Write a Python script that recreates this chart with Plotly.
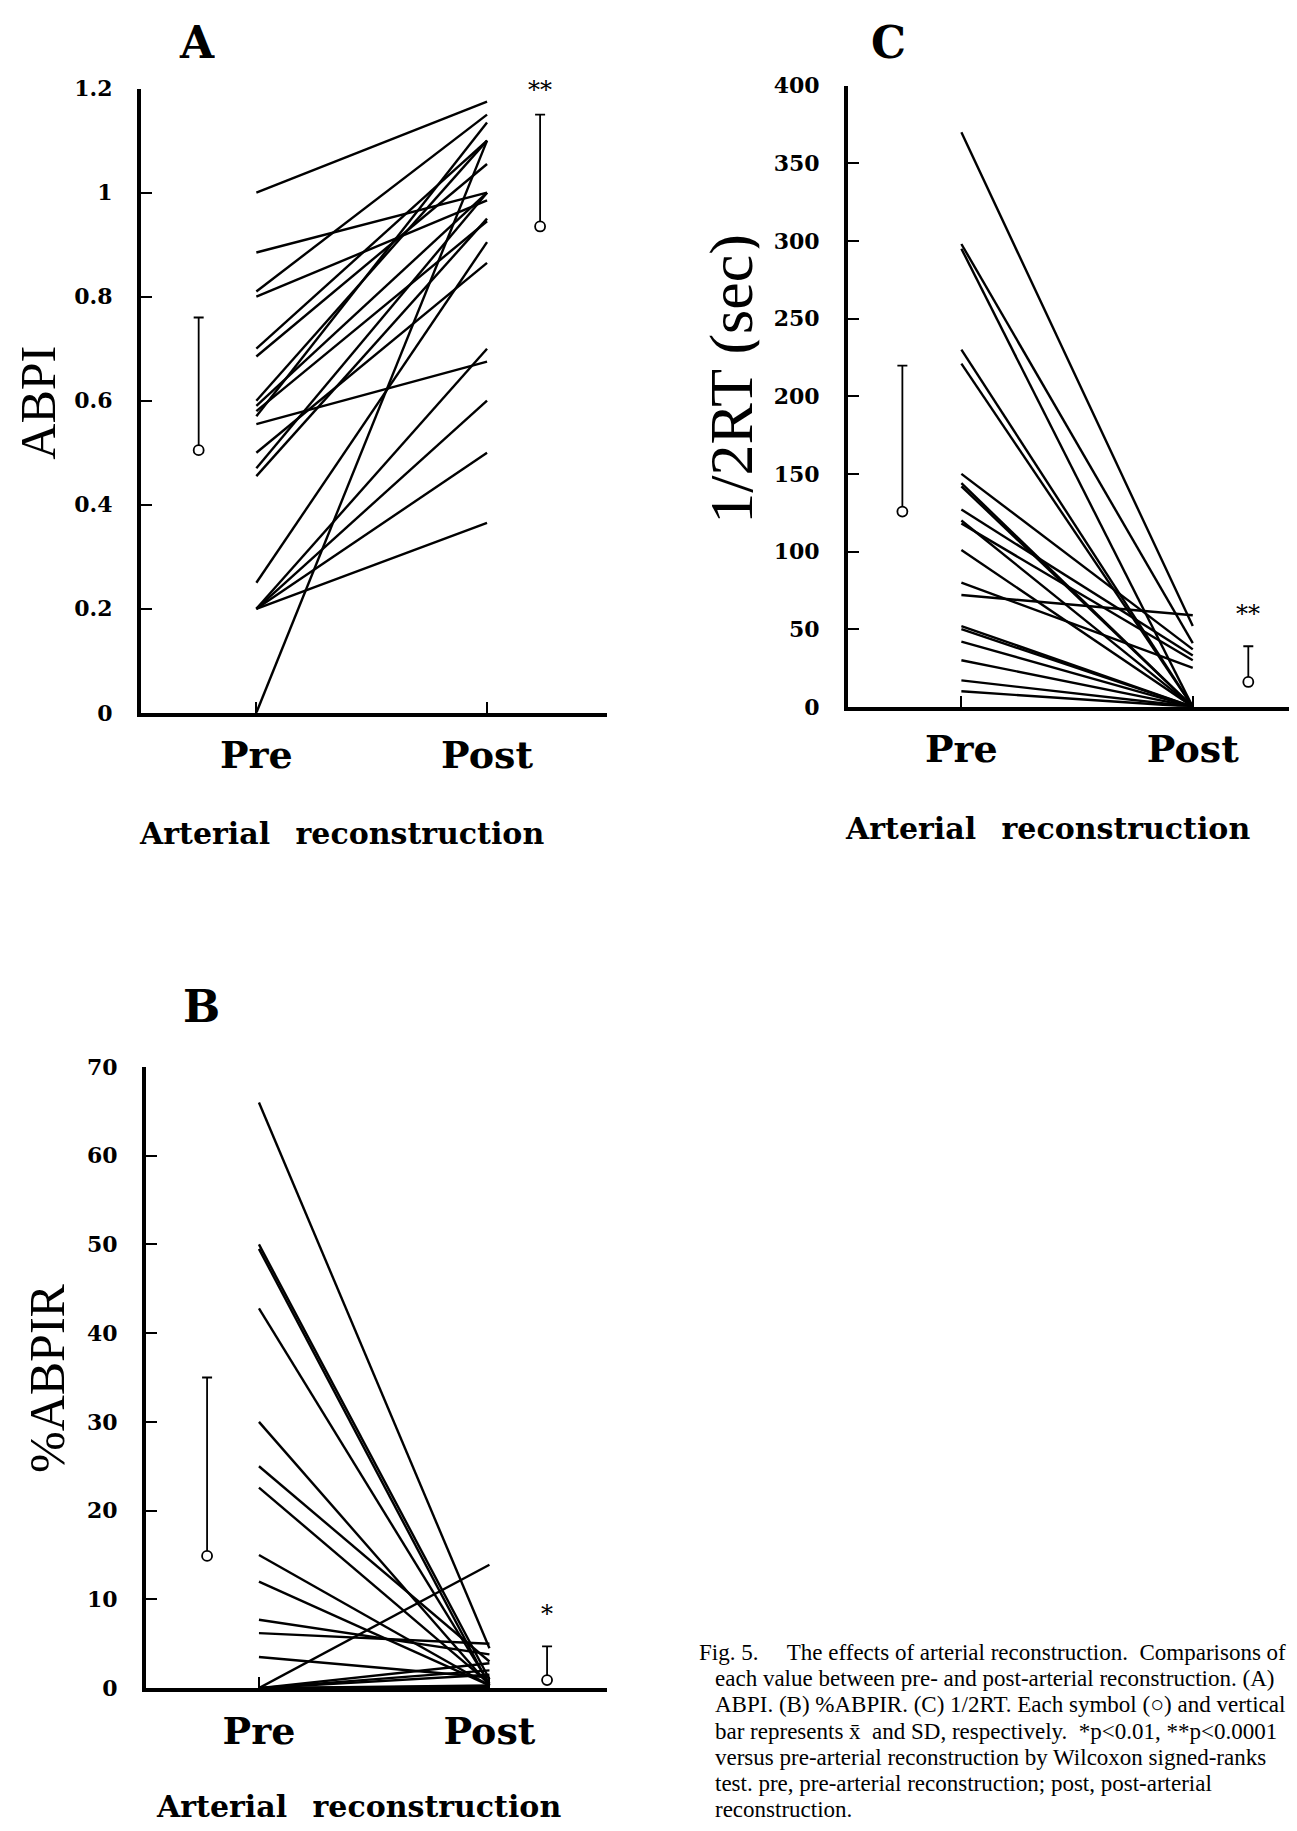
import plotly.graph_objects as go

W, H = 1297, 1831

# ---------------- data ----------------
categories = ["Pre", "Post"]

# Panel A: ABPI
abpi_pre = [1.00, 0.885, 0.81, 0.80, 0.70, 0.685, 0.60, 0.59, 0.58, 0.57,
            0.555, 0.50, 0.47, 0.455, 0.25, 0.20, 0.20, 0.20, 0.20, 0.00]
abpi_post = [1.175, 1.00, 1.15, 0.985, 1.10, 1.055, 1.10, 1.00, 0.945, 1.135,
             0.675, 0.865, 1.00, 0.95, 0.905, 0.70, 0.60, 0.50, 0.365, 1.10]
abpi_mean = [0.505, 0.935]
abpi_sd = [0.255, 0.215]
abpi_ticks = [0, 0.2, 0.4, 0.6, 0.8, 1.0, 1.2]
abpi_ticktext = ["0", "0.2", "0.4", "0.6", "0.8", "1", "1.2"]

# Panel C: 1/2RT (sec)
rt_pre = [370, 298, 295, 230, 221, 150, 144, 142, 127, 120,
          118, 101, 80, 72, 52, 50, 42, 30, 17, 10]
rt_post = [52, 41, 0, 0, 0, 37, 0, 0, 33, 0,
           30, 0, 25, 59, 0, 0, 0, 0, 0, 0]
rt_mean = [125.7, 16]
rt_sd = [94, 23]
rt_ticks = [0, 50, 100, 150, 200, 250, 300, 350, 400]

# Panel B: %ABPIR
abpir_pre = [66, 50, 49.5, 42.8, 30, 25, 22.6, 15, 12, 7.7,
             6.2, 3.5, 0, 0, 0, 0, 0, 0, 0, 0]
abpir_post = [4.5, 1.0, 0.3, 0.5, 0.3, 3.0, 0.5, 0.3, 0.3, 3.8,
              5.0, 1.2, 13.9, 2.8, 2.0, 1.5, 0.3, 0.2, 0.1, 0.0]
abpir_mean = [14.9, 0.9]
abpir_sd = [20.1, 3.8]
abpir_ticks = [0, 10, 20, 30, 40, 50, 60, 70]

caption_lines = [
    "Fig. 5.\u2003 The effects of arterial reconstruction.  Comparisons of",
    "each value between pre- and post-arterial reconstruction. (A)",
    "ABPI. (B) %ABPIR. (C) 1/2RT. Each symbol (\u25CB) and vertical",
    "bar represents x\u0304  and SD, respectively.  *p<0.01, **p<0.0001",
    "versus pre-arterial reconstruction by Wilcoxon signed-ranks",
    "test. pre, pre-arterial reconstruction; post, post-arterial",
    "reconstruction.",
]

# ---------------- helpers (target page pixels -> paper coords) ----------------
XOFF = 8
YOFF, YSCALE = 21.4, 0.9855


def px(x):
    return (x - XOFF) / W


def fy(y):
    return (y - YOFF) / YSCALE


def py(y):
    return 1 - fy(y) / H


TICKFONT = dict(family="DejaVu Serif", size=22, color="black", weight="bold")
CATFONT = dict(family="DejaVu Serif", size=38, color="black", weight="bold")
cat_x = [1, 2]

fig = go.Figure()

panels = [
    ("x", "y", abpi_pre, abpi_post, abpi_mean, abpi_sd, [0.75, 2.23], "**", 1.198),
    ("x2", "y2", rt_pre, rt_post, rt_mean, rt_sd, [0.745, 2.24], "**", 60),
    ("x3", "y3", abpir_pre, abpir_post, abpir_mean, abpir_sd, [0.775, 2.25], "*", 8.3),
]

for xa, ya, pre, post, mean, sd, sx, star, stary in panels:
    for a, b in zip(pre, post):
        fig.add_trace(go.Scatter(
            x=cat_x, y=[a, b], mode="lines", xaxis=xa, yaxis=ya,
            line=dict(color="black", width=2.4), showlegend=False,
            hoverinfo="skip", cliponaxis=False))
    fig.add_trace(go.Scatter(
        x=sx, y=mean, mode="markers", xaxis=xa, yaxis=ya,
        marker=dict(symbol="circle", size=10, color="white",
                    line=dict(color="black", width=1.8)),
        error_y=dict(type="data", symmetric=False, array=sd,
                     arrayminus=[0] * len(sd), color="black",
                     thickness=1.8, width=5),
        showlegend=False, cliponaxis=False))
    fig.add_annotation(x=sx[1], y=stary, xref=xa, yref=ya, text=star,
                       showarrow=False, yanchor="middle",
                       font=dict(family="DejaVu Serif", size=24, color="black"))


def xaxis_cfg(domain, rng, anchor):
    return dict(domain=domain, range=rng, anchor=anchor,
                tickvals=cat_x, ticktext=categories, tickfont=CATFONT,
                ticks="inside", ticklen=11, tickwidth=2, tickcolor="black",
                showline=True, linewidth=4, linecolor="black",
                showgrid=False, zeroline=False, ticklabelstandoff=6)


def yaxis_cfg(domain, rng, anchor, tv, tt):
    return dict(domain=domain, range=rng, anchor=anchor,
                tickvals=tv, ticktext=tt, tickfont=TICKFONT,
                ticks="inside", ticklen=11, tickwidth=2, tickcolor="black",
                showline=True, linewidth=4, linecolor="black",
                showgrid=False, zeroline=False, ticklabelstandoff=20)


fig.update_layout(
    width=W, height=H,
    margin=dict(l=0, r=0, t=0, b=0),
    paper_bgcolor="white", plot_bgcolor="white",
    showlegend=False,
    xaxis=xaxis_cfg([px(141), px(607)], [0.5, 2.52], "y"),
    yaxis=yaxis_cfg([py(713), py(89)], [0, 1.2], "x", abpi_ticks, abpi_ticktext),
    xaxis2=xaxis_cfg([px(848), 1.0], [0.51, 2.485], "y2"),
    yaxis2=yaxis_cfg([py(707), py(86)], [0, 400], "x2", rt_ticks,
                     [str(v) for v in rt_ticks]),
    xaxis3=xaxis_cfg([px(146), px(607)], [0.51, 2.51], "y3"),
    yaxis3=yaxis_cfg([py(1688), py(1067)], [0, 70], "x3", abpir_ticks,
                     [str(v) for v in abpir_ticks]),
)


def ann(x, y, text, font, angle=0, xanchor="center", yanchor="middle",
        height=None):
    fig.add_annotation(x=px(x), y=py(y), xref="paper", yref="paper",
                       text=text, showarrow=False, textangle=angle,
                       xanchor=xanchor, yanchor=yanchor, font=font,
                       height=height, borderpad=0)


LETTER = dict(family="DejaVu Serif", size=44, color="black", weight="bold")
YTITLE = dict(family="Liberation Serif", size=50, color="black")
XTITLE = dict(family="DejaVu Serif", size=30, color="black", weight="bold")

# panel letters: compact text boxes so they stay inside the top edge
top_letter_y = YOFF + YSCALE * 21
ann(197, top_letter_y, "A", LETTER, height=40)
ann(888, top_letter_y, "C", LETTER, height=40)
ann(201, 1006, "B", LETTER, height=40)

ann(38, 403, "ABPI", YTITLE, angle=-90, height=46)
ann(731, 379, "1/2RT (sec)", dict(YTITLE, size=62), angle=-90, height=56)
ann(47, 1378, "%ABPIR", YTITLE, angle=-90, height=46)

ann(341, 834, "Arterial\u2002 reconstruction", XTITLE)
ann(1047, 829, "Arterial\u2002 reconstruction", XTITLE)
ann(358, 1806, "Arterial\u2002 reconstruction", XTITLE)

CAPFONT = dict(family="Liberation Serif", size=23, color="black")
cap_y0, cap_dy = 1652, 26.3
for i, line in enumerate(caption_lines):
    x0 = 698 if i == 0 else 714
    ann(x0, cap_y0 + i * cap_dy, line, CAPFONT, xanchor="left")

fig.write_html("out.html")
